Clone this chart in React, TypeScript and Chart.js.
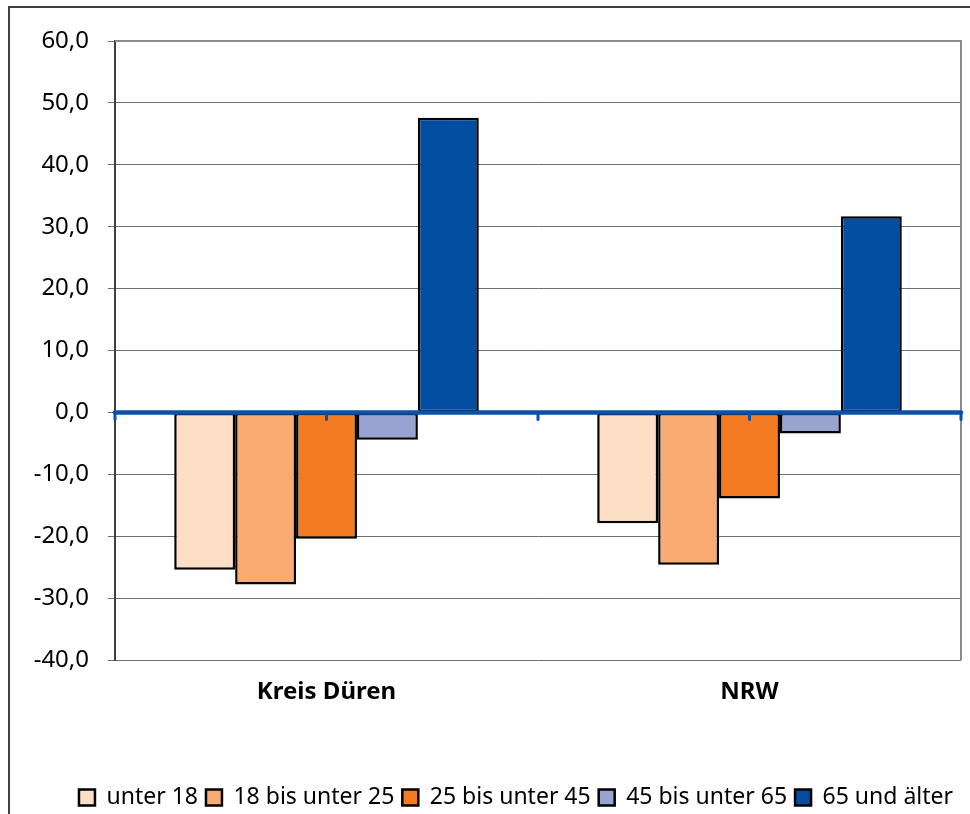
import React, { useEffect, useRef } from 'react';
import { Chart, registerables } from 'chart.js';

Chart.register(...registerables);

const categories = ['Kreis Düren', 'NRW'];
const seriesLabels = ['unter 18', '18 bis unter 25', '25 bis unter 45', '45 bis unter 65', '65 und älter'];
const unter18 = [-25.4, -17.9];
const von18bis25 = [-27.8, -24.6];
const von25bis45 = [-20.4, -13.9];
const von45bis65 = [-4.4, -3.4];
const ab65 = [47.6, 31.7];
const seriesColors = ['#FDDFC6', '#F9AB72', '#F47B22', '#99A3D1', '#034DA2'];
const yMin = -40;
const yMax = 60;
const yStep = 10;

const FONT = "'Noto Sans', 'Open Sans', sans-serif";
const AXIS_BLUE = '#0A52A8';

const framePlugin = {
  id: 'plotFrame',
  beforeDatasetsDraw(chart: any) {
    const { ctx, chartArea } = chart;
    ctx.save();
    ctx.strokeStyle = '#8C8C8C';
    ctx.lineWidth = 2;
    ctx.beginPath();
    ctx.moveTo(chartArea.left, chartArea.top);
    ctx.lineTo(chartArea.right, chartArea.top);
    ctx.lineTo(chartArea.right, chartArea.bottom);
    ctx.stroke();
    ctx.restore();
  },
};

const zeroLinePlugin = {
  id: 'zeroLine',
  afterDatasetsDraw(chart: any) {
    const { ctx, chartArea, scales } = chart;
    const y0 = scales.y.getPixelForValue(0);
    const xs = scales.x;
    ctx.save();
    ctx.strokeStyle = AXIS_BLUE;
    ctx.lineCap = 'round';
    ctx.lineWidth = 4.5;
    ctx.beginPath();
    ctx.moveTo(chartArea.left, y0);
    ctx.lineTo(chartArea.right, y0);
    ctx.stroke();
    const positions: number[] = [];
    const n = categories.length;
    for (let i = 0; i < n; i++) {
      positions.push(xs.getPixelForValue(i));
    }
    for (let i = 0; i <= n; i++) {
      positions.push(xs.getPixelForValue(i - 0.5));
    }
    ctx.lineWidth = 3;
    positions.forEach((px) => {
      ctx.beginPath();
      ctx.moveTo(px, y0);
      ctx.lineTo(px, y0 + 7);
      ctx.stroke();
    });
    ctx.restore();
  },
};

export default function App() {
  const canvasRef = useRef<HTMLCanvasElement>(null);

  useEffect(() => {
    const seriesData = [unter18, von18bis25, von25bis45, von45bis65, ab65];
    const chart = new Chart(canvasRef.current as HTMLCanvasElement, {
      type: 'bar',
      data: {
        labels: categories,
        datasets: seriesLabels.map((label, i) => ({
          label,
          data: seriesData[i],
          backgroundColor: seriesColors[i],
          borderColor: '#000000',
          borderWidth: 2.5,
          borderSkipped: false,
          categoryPercentage: 0.72,
          barPercentage: 1.0,
        })),
      },
      options: {
        animation: false,
        responsive: false,
        maintainAspectRatio: false,
        layout: { padding: { left: 0, right: 9, top: 41, bottom: 0 } },
        plugins: {
          tooltip: { enabled: false },
          legend: {
            position: 'bottom',
            align: 'end',
            labels: {
              color: '#000000',
              font: { family: FONT, size: 23, lineHeight: 1 },
              boxWidth: 16,
              boxHeight: 16,
              padding: 8,
            },
          },
        },
        scales: {
          x: {
            grid: { display: false, drawTicks: false },
            border: { display: false },
            ticks: {
              color: '#000000',
              font: { family: FONT, size: 24, weight: 'bold' },
              padding: 18,
            },
            afterFit(scale: any) {
              scale.height = 118;
            },
          },
          y: {
            min: yMin,
            max: yMax,
            grid: {
              color: '#6E6E6E',
              lineWidth: 1,
              tickLength: 7,
              tickColor: '#6E6E6E',
            },
            border: { color: '#404040', width: 2 },
            ticks: {
              stepSize: yStep,
              color: '#000000',
              font: { family: FONT, size: 24 },
              padding: 19,
              callback: (v: any) => Number(v).toFixed(1).replace('.', ','),
            },
            afterFit(scale: any) {
              scale.width = 115;
            },
          },
        },
      },
      plugins: [framePlugin, zeroLinePlugin],
    });
    return () => chart.destroy();
  }, []);

  return (
    <>
      <div
        style={{
          position: 'fixed',
          left: 8,
          top: 6,
          width: 1100,
          height: 1000,
          border: '2px solid #404040',
          boxSizing: 'border-box',
          pointerEvents: 'none',
        }}
      />
      <canvas
        ref={canvasRef}
        width={970}
        height={819}
        style={{ position: 'fixed', left: 0, top: 0, display: 'block' }}
      />
    </>
  );
}
